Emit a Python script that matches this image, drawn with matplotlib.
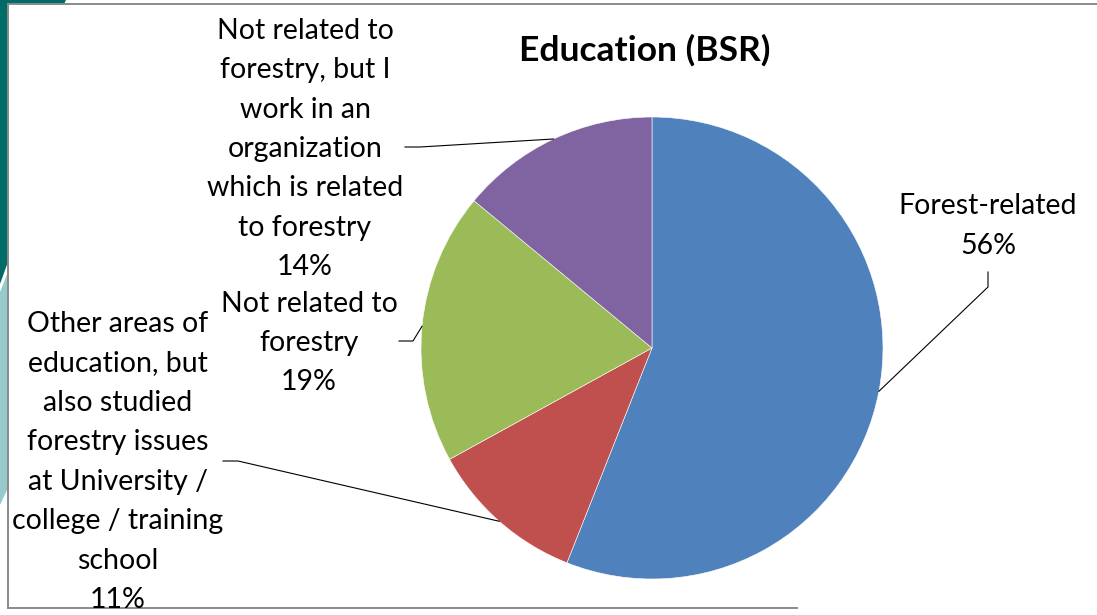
import numpy as np
import matplotlib
matplotlib.use("Agg")
import matplotlib.pyplot as plt
from matplotlib.patches import Polygon

# Survey answers, BSR respondents
categories = [
    "Forest-related",
    "Other areas of\neducation, but\nalso studied\nforestry issues\nat University /\ncollege / training\nschool",
    "Not related to\nforestry",
    "Not related to\nforestry, but I\nwork in an\norganization\nwhich is related\nto forestry",
]
shares = [56, 11, 19, 14]
colors = ["#4F81BD", "#C0504D", "#9BBB59", "#8064A2"]

plt.rcParams["font.family"] = ["Lato", "DejaVu Sans"]

W, H = 1097, 615
fig = plt.figure(figsize=(W / 100, H / 100), dpi=100)
ax = fig.add_axes([0, 0, 1, 1])

# slide decoration on the left edge
ax.add_patch(Polygon([(0, 0), (66, 0), (64, 4), (8, 4), (8, 262), (0, 284)],
                     closed=True, color="#016B69", lw=0))
ax.add_patch(Polygon([(0, 292), (8, 272), (8, 488), (0, 505)],
                     closed=True, color="#97CACB", lw=0))

# chart frame
ax.plot([8, W], [4, 4], color="#8a8a8a", lw=1.4)
ax.plot([8, 8], [4, 608], color="#8a8a8a", lw=1.4)
ax.plot([8, 797], [608, 608], color="#8a8a8a", lw=1.4)

cx, cy, r = 652, 348, 231
# y axis is flipped, so counterclock in data runs clockwise on screen
wedges, _ = ax.pie(shares, colors=colors, startangle=-90, counterclock=True,
                   center=(cx, cy), radius=r, frame=True,
                   wedgeprops=dict(edgecolor="white", linewidth=0.4))
ax.set_xlim(0, W)
ax.set_ylim(H, 0)
ax.set_aspect("equal")
ax.axis("off")

ax.text(645, 50, "Education (BSR)", ha="center", va="center",
        fontsize=25.5, fontweight="bold")

# label anchor (centre of text block), line start, elbow
label_pos = [(988, 226), (118, 462), (309, 343), (305, 149)]
leader_start = [(988, 272), (223, 461), (399, 341), (405, 147)]
leader_elbow = [(988, 287), (238, 461), (413, 341), (420, 147)]

for w, name, val, pos, p0, p1 in zip(wedges, categories, shares,
                                     label_pos, leader_start, leader_elbow):
    mid = np.deg2rad((w.theta1 + w.theta2) / 2)
    edge = (cx + r * np.cos(mid), cy + r * np.sin(mid))
    ax.plot([p0[0], p1[0], edge[0]], [p0[1], p1[1], edge[1]],
            color="black", lw=0.8)
    ax.text(pos[0], pos[1], f"{name}\n{val}%", ha="center", va="center",
            fontsize=20.5, linespacing=1.64, clip_on=False)

fig.savefig("out.png", dpi=100)
